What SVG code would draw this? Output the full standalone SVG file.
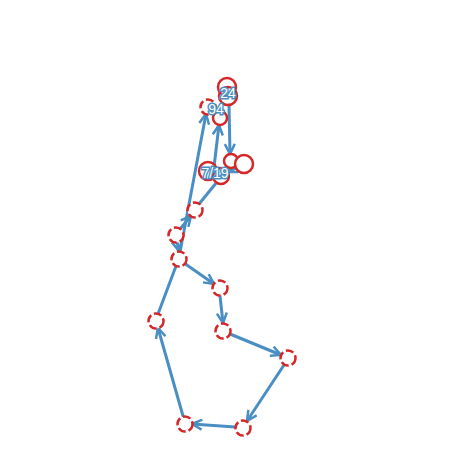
<svg xmlns="http://www.w3.org/2000/svg" width="462" height="462" viewBox="0 0 462 462">
<style>
.e{stroke:#4a8fc4;stroke-width:3;fill:none;stroke-linecap:round}
.a{marker-end:url(#arr)}
.n{fill:#fff;stroke:#d62728;stroke-width:2.5}
.d{stroke-dasharray:8,3}
.s{fill:none}
.t{font-family:"Liberation Sans",Arial,sans-serif;font-size:14px;fill:#fff;stroke:#4a8fc4;stroke-width:3;paint-order:stroke;text-anchor:middle}
</style>
<defs>
<marker id="arr" viewBox="0 0 12 12" refX="11" refY="6" markerWidth="12" markerHeight="12" markerUnits="userSpaceOnUse" orient="auto">
<path d="M1,1 L11,6 L1,11" fill="none" stroke="#4a8fc4" stroke-width="2.5" stroke-linejoin="miter"/>
</marker>
</defs>
<rect width="462" height="462" fill="#fff"/>
<g id="connectors">
<line class="e a" x1="184" y1="263" x2="214" y2="284"/>
<line class="e a" x1="220" y1="296" x2="223" y2="323"/>
<line class="e a" x1="230" y1="334" x2="281" y2="355"/>
<line class="e a" x1="284" y1="365" x2="247" y2="421"/>
<line class="e a" x1="235" y1="427" x2="192" y2="424"/>
<line class="e a" x1="183" y1="416" x2="158" y2="328"/>
<line class="e" x1="158" y1="314" x2="176" y2="266"/>
<line class="e a" x1="177" y1="242" x2="179" y2="251"/>
<line class="e a" x1="180" y1="229" x2="191" y2="216"/>
<line class="e a" x1="180" y1="252" x2="206" y2="114"/>
<line class="e" x1="199" y1="204" x2="217" y2="182"/>
<line class="e a" x1="214" y1="167" x2="219" y2="125"/>
<line class="e a" x1="229" y1="105" x2="230" y2="154"/>
<line class="e a" x1="236" y1="168" x2="228" y2="172"/>
</g>
<g id="nodeA"><circle class="n s" cx="227" cy="87" r="9"/></g>
<g id="nodeB"><circle class="n s" cx="228" cy="96" r="9"/><text class="t" x="228" y="98">24</text></g>
<g id="nodeC"><circle class="n d" cx="208" cy="107" r="7.5"/></g>
<g id="nodeD"><circle class="n" cx="220" cy="118" r="7"/><text class="t" x="216" y="114">94</text></g>
<g id="nodeE"><circle class="n" cx="208" cy="171" r="9"/></g>
<g id="nodeF"><circle class="n" cx="221" cy="176" r="8"/></g>
<g id="nodeG"><circle class="n" cx="231" cy="161" r="7"/></g>
<g id="nodeH"><circle class="n" cx="244" cy="164" r="9"/><text class="t" x="215" y="178">7/19</text></g>
<g id="nodeI"><circle class="n d" cx="195" cy="210" r="7.5"/></g>
<g id="nodeJ"><circle class="n d" cx="176" cy="235" r="7.5"/></g>
<g id="nodeK"><circle class="n d" cx="179" cy="259" r="7.5"/></g>
<g id="nodeL"><circle class="n d" cx="220" cy="288" r="7.5"/></g>
<g id="nodeM"><circle class="n d" cx="223" cy="331" r="7.5"/></g>
<g id="nodeN"><circle class="n d" cx="288" cy="358" r="7.5"/></g>
<g id="nodeO"><circle class="n d" cx="243" cy="428" r="7.5"/></g>
<g id="nodeP"><circle class="n d" cx="185" cy="424" r="7.5"/></g>
<g id="nodeQ"><circle class="n d" cx="156" cy="321" r="7.5"/></g>
</svg>
